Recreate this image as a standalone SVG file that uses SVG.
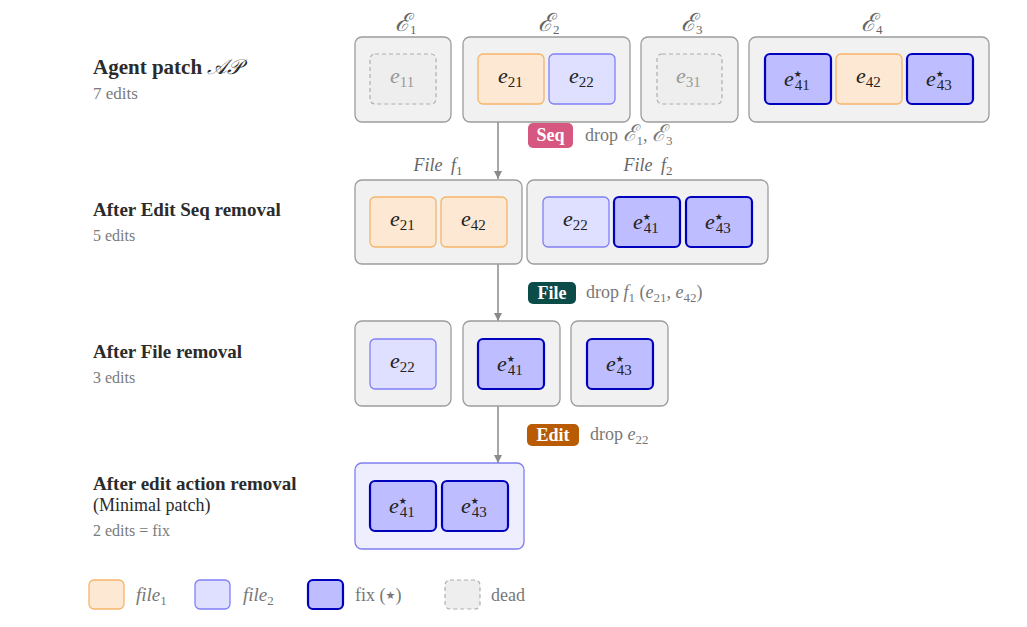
<svg xmlns="http://www.w3.org/2000/svg" width="1027" height="627" viewBox="0 0 1027 627">
<defs>
<marker id="ah" viewBox="0 0 10 10" refX="10" refY="5" markerWidth="8" markerHeight="8" markerUnits="userSpaceOnUse" orient="auto"><path d="M0,0 L10,5 L0,10 z" fill="#8a8a8a"/></marker>
</defs>
<style>
text{font-family:"Liberation Serif","DejaVu Serif",serif}
.cont{fill:#f1f1f1;stroke:#9c9c9c;stroke-width:1.3}
.min{fill:#eeeeff;stroke:#7f7fee;stroke-width:1.3}
.f1{fill:#fde8d3;stroke:#f6b46a;stroke-width:1.3}
.f2{fill:#dfdfff;stroke:#8080f6;stroke-width:1.3}
.fix{fill:#bdbdff;stroke:#0000bd;stroke-width:2.2}
.dead{fill:#eeeeee;stroke:#adadad;stroke-width:1.2;stroke-dasharray:4,3}
.m{font-style:italic;font-size:22px;fill:#222}
.md{font-style:italic;font-size:22px;fill:#999}
.sub{font-style:normal;font-size:15px}
.st{font-family:"DejaVu Sans",sans-serif;font-style:normal;font-size:9px}
.hd{font-weight:bold;font-size:19px;fill:#2b2b2b}
.hd1{font-weight:bold;font-size:21px;fill:#2b2b2b}
.cnt{font-size:16px;fill:#7a7a7a}
.cnt1{font-size:17px;fill:#7a7a7a}
.cap{font-size:25px;fill:#666;font-style:italic}
.fcap{font-size:18px;fill:#666;font-style:italic;word-spacing:4px}
.cs{font-size:13px;font-style:normal}
.badge{font-weight:bold;font-size:18px;fill:#fff}
.note{font-size:18px;fill:#777}
.conn{stroke:#8a8a8a;stroke-width:1.5;fill:none}
</style>

<g id="labels">
<text class="hd1" x="93" y="74">Agent patch <tspan font-style="italic" font-weight="normal" font-family="DejaVu Serif,serif">𝒜𝒫</tspan></text>
<text class="cnt1" x="93" y="99">7 edits</text>
<text class="hd" x="93" y="216">After Edit Seq removal</text>
<text class="cnt" x="93" y="241">5 edits</text>
<text class="hd" x="93" y="358">After File removal</text>
<text class="cnt" x="93" y="383">3 edits</text>
<text class="hd" x="93" y="490">After edit action removal</text>
<text x="93" y="511" font-size="18" fill="#2b2b2b">(Minimal patch)</text>
<text class="cnt" x="93" y="536">2 edits = fix</text>
</g>

<g id="connectors">
<line class="conn" x1="498" y1="122" x2="498" y2="179" marker-end="url(#ah)"/>
<line class="conn" x1="498" y1="264" x2="498" y2="321" marker-end="url(#ah)"/>
<line class="conn" x1="498" y1="406" x2="498" y2="463" marker-end="url(#ah)"/>
</g>

<g id="op-seq">
<rect x="528" y="123" width="45" height="25" rx="5" fill="#d6577f"/>
<text class="badge" x="550.5" y="141" text-anchor="middle">Seq</text>
<text class="note" x="585" y="141">drop <tspan font-style="italic" font-size="23">ℰ</tspan><tspan font-size="13" dy="4">1</tspan><tspan dy="-4">, </tspan><tspan font-style="italic" font-size="23">ℰ</tspan><tspan font-size="13" dy="4">3</tspan></text>
</g>
<g id="op-file">
<rect x="528" y="282" width="48" height="22" rx="5" fill="#0b4c48"/>
<text class="badge" x="552" y="299" text-anchor="middle">File</text>
<text class="note" x="586" y="298">drop <tspan font-style="italic">f</tspan><tspan font-size="13" dy="4">1</tspan><tspan dy="-4"> (</tspan><tspan font-style="italic">e</tspan><tspan font-size="13" dy="4">21</tspan><tspan dy="-4">, </tspan><tspan font-style="italic">e</tspan><tspan font-size="13" dy="4">42</tspan><tspan dy="-4">)</tspan></text>
</g>
<g id="op-edit">
<rect x="527" y="424" width="52" height="22" rx="5" fill="#b85b02"/>
<text class="badge" x="553" y="441" text-anchor="middle">Edit</text>
<text class="note" x="590" y="440">drop <tspan font-style="italic">e</tspan><tspan font-size="13" dy="4">22</tspan></text>
</g>

<!-- Row 1 -->
<g id="E1">
<text class="cap" x="395" y="31">ℰ<tspan class="cs" dy="3">1</tspan></text>
<rect class="cont" x="355" y="37" width="96" height="85" rx="7"/>
<rect class="dead" x="370" y="54" width="66" height="50" rx="5"/>
<text class="md" x="390" y="83">e<tspan class="sub" dy="4">11</tspan></text>
</g>
<g id="E2">
<text class="cap" x="538" y="31">ℰ<tspan class="cs" dy="3">2</tspan></text>
<rect class="cont" x="463" y="37" width="167" height="85" rx="7"/>
<rect class="f1" x="478" y="54" width="66" height="50" rx="5"/>
<text class="m" x="498" y="83">e<tspan class="sub" dy="4">21</tspan></text>
<rect class="f2" x="549" y="54" width="66" height="50" rx="5"/>
<text class="m" x="569" y="83">e<tspan class="sub" dy="4">22</tspan></text>
</g>
<g id="E3">
<text class="cap" x="681" y="31">ℰ<tspan class="cs" dy="3">3</tspan></text>
<rect class="cont" x="641" y="37" width="97" height="85" rx="7"/>
<rect class="dead" x="657" y="54" width="65" height="50" rx="5"/>
<text class="md" x="676" y="83">e<tspan class="sub" dy="4">31</tspan></text>
</g>
<g id="E4">
<text class="cap" x="861" y="31">ℰ<tspan class="cs" dy="3">4</tspan></text>
<rect class="cont" x="749" y="37" width="240" height="85" rx="7"/>
<rect class="fix" x="765" y="54" width="66" height="50" rx="5"/>
<text class="m" x="784" y="86">e<tspan class="st" dy="-9">★</tspan><tspan class="sub" dx="-7" dy="13">41</tspan></text>
<rect class="f1" x="836" y="54" width="66" height="50" rx="5"/>
<text class="m" x="856" y="83">e<tspan class="sub" dy="4">42</tspan></text>
<rect class="fix" x="907" y="54" width="66" height="50" rx="5"/>
<text class="m" x="926" y="86">e<tspan class="st" dy="-9">★</tspan><tspan class="sub" dx="-7" dy="13">43</tspan></text>
</g>

<!-- Row 2 -->
<g id="F1">
<text class="fcap" x="438" y="171" text-anchor="middle">File <tspan>f</tspan><tspan class="cs" dy="4">1</tspan></text>
<rect class="cont" x="355" y="180" width="167" height="84" rx="7"/>
<rect class="f1" x="370" y="197" width="66" height="50" rx="5"/>
<text class="m" x="390" y="226">e<tspan class="sub" dy="4">21</tspan></text>
<rect class="f1" x="441" y="197" width="66" height="50" rx="5"/>
<text class="m" x="461" y="226">e<tspan class="sub" dy="4">42</tspan></text>
</g>
<g id="F2">
<text class="fcap" x="648" y="171" text-anchor="middle">File <tspan>f</tspan><tspan class="cs" dy="4">2</tspan></text>
<rect class="cont" x="527" y="180" width="241" height="84" rx="7"/>
<rect class="f2" x="543" y="197" width="66" height="50" rx="5"/>
<text class="m" x="563" y="226">e<tspan class="sub" dy="4">22</tspan></text>
<rect class="fix" x="614" y="197" width="66" height="50" rx="5"/>
<text class="m" x="633" y="229">e<tspan class="st" dy="-9">★</tspan><tspan class="sub" dx="-7" dy="13">41</tspan></text>
<rect class="fix" x="686" y="197" width="66" height="50" rx="5"/>
<text class="m" x="705" y="229">e<tspan class="st" dy="-9">★</tspan><tspan class="sub" dx="-7" dy="13">43</tspan></text>
</g>

<!-- Row 3 -->
<g id="R3a">
<rect class="cont" x="355" y="321" width="96" height="85" rx="7"/>
<rect class="f2" x="370" y="339" width="66" height="50" rx="5"/>
<text class="m" x="390" y="368">e<tspan class="sub" dy="4">22</tspan></text>
</g>
<g id="R3b">
<rect class="cont" x="463" y="321" width="97" height="85" rx="7"/>
<rect class="fix" x="478" y="339" width="66" height="50" rx="5"/>
<text class="m" x="497" y="371">e<tspan class="st" dy="-9">★</tspan><tspan class="sub" dx="-7" dy="13">41</tspan></text>
</g>
<g id="R3c">
<rect class="cont" x="571" y="321" width="97" height="85" rx="7"/>
<rect class="fix" x="587" y="339" width="66" height="50" rx="5"/>
<text class="m" x="606" y="371">e<tspan class="st" dy="-9">★</tspan><tspan class="sub" dx="-7" dy="13">43</tspan></text>
</g>

<!-- Row 4 -->
<g id="R4">
<rect class="min" x="355" y="463" width="169" height="86" rx="7"/>
<rect class="fix" x="370" y="481" width="66" height="50" rx="5"/>
<text class="m" x="389" y="513">e<tspan class="st" dy="-9">★</tspan><tspan class="sub" dx="-7" dy="13">41</tspan></text>
<rect class="fix" x="442" y="481" width="66" height="50" rx="5"/>
<text class="m" x="461" y="513">e<tspan class="st" dy="-9">★</tspan><tspan class="sub" dx="-7" dy="13">43</tspan></text>
</g>

<!-- Legend -->
<g id="legend">
<rect class="f1" x="89" y="580" width="35" height="29" rx="5"/>
<text x="136" y="601" font-size="19" font-style="italic" fill="#777">file<tspan font-size="13" dy="4" font-style="normal">1</tspan></text>
<rect class="f2" x="195" y="580" width="35" height="29" rx="5"/>
<text x="243" y="601" font-size="19" font-style="italic" fill="#777">file<tspan font-size="13" dy="4" font-style="normal">2</tspan></text>
<rect class="fix" x="308" y="580" width="35" height="29" rx="5"/>
<text x="355" y="601" font-size="18" fill="#777">fix (<tspan font-family="DejaVu Sans,sans-serif" font-size="11" dy="-2">★</tspan><tspan dy="2">)</tspan></text>
<rect class="dead" x="445" y="580" width="35" height="29" rx="5"/>
<text x="491" y="601" font-size="18" fill="#777">dead</text>
</g>
</svg>
